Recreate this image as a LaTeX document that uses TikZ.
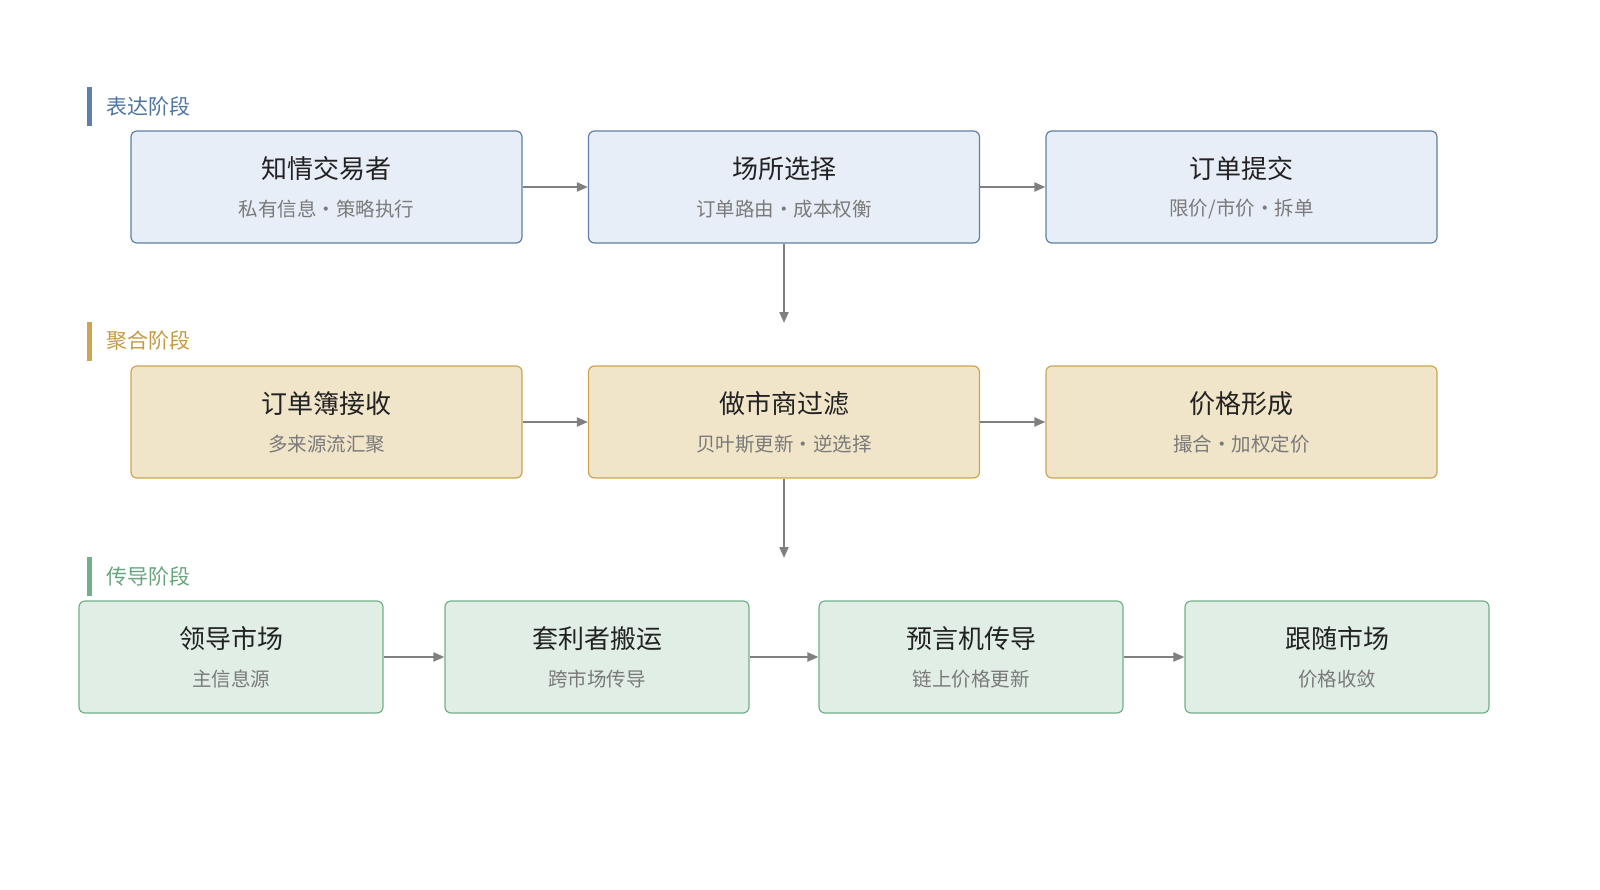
\documentclass[tikz,border=0pt]{standalone}
\usepackage{fontspec}
\newfontfamily\cjk{Noto Sans CJK SC}
\usetikzlibrary{arrows.meta}
\definecolor{bfill}{HTML}{E7EEF8}\definecolor{bdraw}{HTML}{5F7FA8}\definecolor{blab}{HTML}{4F75A0}
\definecolor{tfill}{HTML}{F1E5C9}\definecolor{tdraw}{HTML}{CDA452}\definecolor{tlab}{HTML}{C49A45}
\definecolor{gfill}{HTML}{E1EEE5}\definecolor{gdraw}{HTML}{72B08A}\definecolor{glab}{HTML}{68A57E}
\definecolor{maint}{HTML}{222222}\definecolor{subt}{HTML}{7A7A7A}\definecolor{arr}{HTML}{808080}
\tikzset{
 box/.style={draw, line width=1.2pt, rounded corners=6pt, minimum height=112pt, inner sep=0},
 B/.style={box, fill=bfill, draw=bdraw, minimum width=391pt},
 T/.style={box, fill=tfill, draw=tdraw, minimum width=391pt},
 G/.style={box, fill=gfill, draw=gdraw, minimum width=304pt},
 ti/.style={font=\cjk\fontsize{26}{30}\selectfont, text=maint},
 su/.style={font=\cjk\fontsize{19.5}{24}\selectfont, text=subt},
 lab/.style={font=\cjk\fontsize{21}{25}\selectfont, anchor=west},
 ar/.style={draw=arr, line width=2pt, -{Triangle[length=11pt,width=9pt]}}
}
\newcommand{\bx}[5]{\node[#1] (#2) at #3 {};
 \node[ti] at ([yshift=18pt]#2.center) {#4};
 \node[su] at ([yshift=-22pt]#2.center) {#5};}
\begin{document}
\begin{tikzpicture}[x=1pt,y=-1pt]
\useasboundingbox (0,0) rectangle (1600,889);
\fill[bdraw] (87,87) rectangle (92,126);
\node[lab, text=blab] (l1) at (103,106) {表达阶段};
\fill[tdraw] (87,322) rectangle (92,361);
\node[lab, text=tlab] (l2) at (103,341) {聚合阶段};
\fill[gdraw] (87,557) rectangle (92,596);
\node[lab, text=glab] (l3) at (103,576) {传导阶段};
\bx{B}{a1}{(326.5,187)}{知情交易者}{私有信息・策略执行}
\bx{B}{a2}{(784,187)}{场所选择}{订单路由・成本权衡}
\bx{B}{a3}{(1241.5,187)}{订单提交}{限价/市价・拆单}
\bx{T}{b1}{(326.5,422)}{订单簿接收}{多来源流汇聚}
\bx{T}{b2}{(784,422)}{做市商过滤}{贝叶斯更新・逆选择}
\bx{T}{b3}{(1241.5,422)}{价格形成}{撮合・加权定价}
\bx{G}{c1}{(231,657)}{领导市场}{主信息源}
\bx{G}{c2}{(597,657)}{套利者搬运}{跨市场传导}
\bx{G}{c3}{(971,657)}{预言机传导}{链上价格更新}
\bx{G}{c4}{(1337,657)}{跟随市场}{价格收敛}
\coordinate (d1) at (784,323);
\coordinate (d2) at (784,558);
\draw[ar] (a1) -- (a2); \draw[ar] (a2) -- (a3);
\draw[ar] (b1) -- (b2); \draw[ar] (b2) -- (b3);
\draw[ar] (c1) -- (c2); \draw[ar] (c2) -- (c3); \draw[ar] (c3) -- (c4);
\draw[ar] (a2.south) -- (d1);
\draw[ar] (b2.south) -- (d2);
\end{tikzpicture}
\end{document}
